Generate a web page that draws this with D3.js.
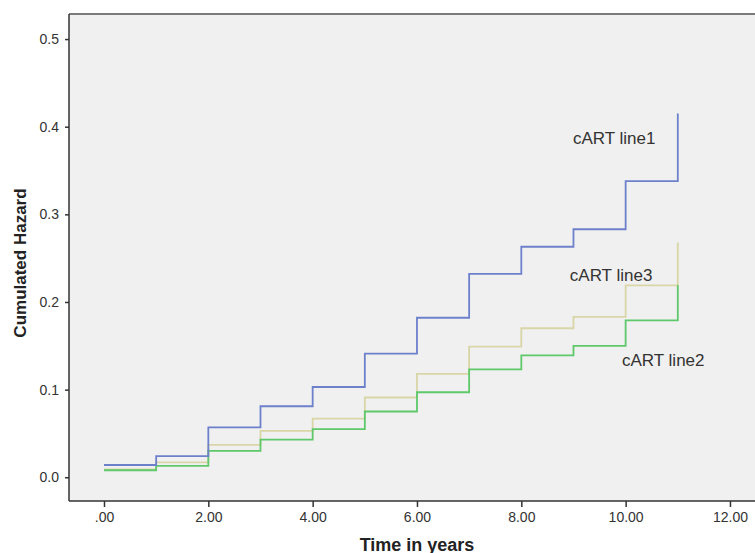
<!DOCTYPE html>
<html>
<head>
<meta charset="utf-8">
<script src="https://cdn.jsdelivr.net/npm/d3@7"></script>
<style>
  body { margin: 0; background: #fff; }
  svg { display: block; font-family: "Liberation Sans", Arial, sans-serif; }
</style>
</head>
<body>
<div id="chartDiv"></div>
<script>
// Data
const years = [0, 1, 2, 3, 4, 5, 6, 7, 8, 9, 10, 11];
const line1 = [0.014, 0.024, 0.057, 0.081, 0.103, 0.141, 0.182, 0.232, 0.263, 0.283, 0.338, 0.415];
const line2 = [0.008, 0.013, 0.030, 0.043, 0.055, 0.075, 0.097, 0.123, 0.139, 0.150, 0.179, 0.219];
const line3 = [0.009, 0.017, 0.037, 0.053, 0.067, 0.091, 0.118, 0.149, 0.170, 0.183, 0.219, 0.268];
const seriesNames = ['cART line1', 'cART line2', 'cART line3'];
const xTicks = [0, 2, 4, 6, 8, 10, 12];
const xTickLabels = ['.00', '2.00', '4.00', '6.00', '8.00', '10.00', '12.00'];
const yTicks = [0, 0.1, 0.2, 0.3, 0.4, 0.5];
const yTickLabels = ['0.0', '0.1', '0.2', '0.3', '0.4', '0.5'];

// Build Variables
const vars = {
  width: 755,
  height: 553,
  xLabel: 'Time in years',
  yLabel: 'Cumulated Hazard',
  margin: { left: 69, right: -10, top: 14, bottom: 52 }
};

const innerW = vars.width - vars.margin.left - vars.margin.right;
const innerH = vars.height - vars.margin.top - vars.margin.bottom;

const svg = d3.select('#chartDiv').append('svg')
  .attr('width', vars.width)
  .attr('height', vars.height);

const gObj = svg.append('g')
  .attr('transform', `translate(${vars.margin.left},${vars.margin.top})`);

// scales: domain chosen so that 0 and 12 / 0.0 and 0.5 land where the ticks are
const xScale = d3.scaleLinear()
  .domain([-0.671, 12.48 + 10 / 52.17])
  .range([0, innerW]);

const yScale = d3.scaleLinear()
  .domain([-0.0271, 0.5286])
  .range([innerH, 0]);

// plot background
gObj.append('rect')
  .attr('width', innerW)
  .attr('height', innerH)
  .attr('fill', '#f0f0f0');

// top border
gObj.append('line')
  .attr('x1', 0).attr('x2', innerW)
  .attr('y1', 0).attr('y2', 0)
  .attr('stroke', '#7a7a7a')
  .attr('stroke-width', 2);

// the step curves
const lineGen = d3.line()
  .x((d, i) => xScale(years[i]))
  .y(d => yScale(d))
  .curve(d3.curveStepAfter);

const series = [
  { name: seriesNames[2], values: line3, color: '#d8d5a6' },
  { name: seriesNames[1], values: line2, color: '#5ec86a' },
  { name: seriesNames[0], values: line1, color: '#6c80cc' }
];

gObj.selectAll('path.step')
  .data(series)
  .enter().append('path')
  .attr('class', 'step')
  .attr('d', d => lineGen(d.values))
  .attr('fill', 'none')
  .attr('stroke', d => d.color)
  .attr('stroke-width', 1.8);

// in-plot labels
const labels = [
  { text: seriesNames[0], x: 8.99, y: 0.380 },
  { text: seriesNames[2], x: 8.93, y: 0.224 },
  { text: seriesNames[1], x: 9.93, y: 0.127 }
];

gObj.selectAll('text.lab')
  .data(labels)
  .enter().append('text')
  .attr('class', 'lab')
  .attr('x', d => xScale(d.x))
  .attr('y', d => yScale(d.y))
  .attr('font-size', 17)
  .attr('fill', '#333')
  .text(d => d.text);

// X-AXIS
const xAxis = d3.axisBottom(xScale)
  .tickValues(xTicks)
  .tickFormat((d, i) => xTickLabels[i])
  .tickSize(6)
  .tickPadding(5);

const xAxisG = gObj.append('g')
  .attr('transform', `translate(0,${innerH})`)
  .call(xAxis);

// Y-AXIS
const yAxis = d3.axisLeft(yScale)
  .tickValues(yTicks)
  .tickFormat((d, i) => yTickLabels[i])
  .tickSize(4)
  .tickPadding(6);

const yAxisG = gObj.append('g').call(yAxis);

[xAxisG, yAxisG].forEach(g => {
  g.select('.domain').attr('stroke', '#333').attr('stroke-width', 1.5);
  g.selectAll('.tick line').attr('stroke', '#333').attr('stroke-width', 1.5);
  g.selectAll('.tick text')
    .attr('font-size', 14)
    .attr('fill', '#333')
    .attr('font-family', '"Liberation Sans", Arial, sans-serif');
});
xAxisG.select('.domain').attr('d', `M0,0H${innerW}`);
yAxisG.select('.domain').attr('d', `M0,0V${innerH}`);

// axis titles
svg.append('text')
  .attr('x', 417)
  .attr('y', 551)
  .attr('text-anchor', 'middle')
  .attr('font-size', 18)
  .attr('font-weight', 'bold')
  .attr('fill', '#222')
  .text(vars.xLabel);

svg.append('text')
  .attr('transform', 'translate(26,263) rotate(-90)')
  .attr('text-anchor', 'middle')
  .attr('font-size', 17)
  .attr('font-weight', 'bold')
  .attr('fill', '#222')
  .text(vars.yLabel);
</script>
</body>
</html>
